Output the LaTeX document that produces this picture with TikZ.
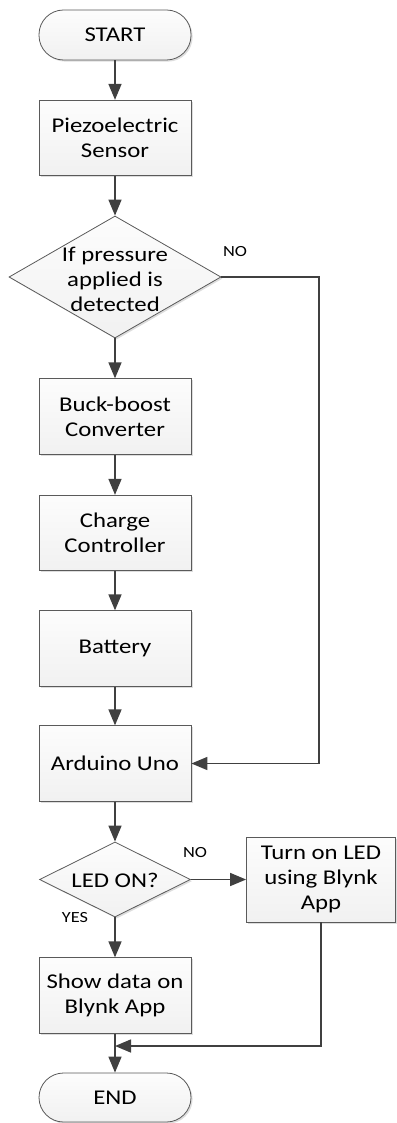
\documentclass[tikz,border=0pt]{standalone}
\usepackage{fontspec}
\setmainfont[FakeStretch=1.18]{Carlito}
\usetikzlibrary{shapes.geometric,arrows.meta,shadows}
\definecolor{lineC}{HTML}{404040}
\definecolor{borderC}{HTML}{5A5A5A}
\tikzset{
  boxbase/.style={draw=borderC, line width=0.8pt, top color=gray!2, bottom color=gray!11,
    drop shadow={shadow xshift=1.6pt, shadow yshift=-1.6pt, fill=gray!45, opacity=0.6},
    inner sep=0pt, align=center, font=\fontsize{21}{25}\selectfont},
  procbox/.style={boxbase, rectangle, minimum width=152pt, minimum height=75.5pt},
  termbox/.style={boxbase, rectangle, rounded corners=24.5pt, minimum width=152pt, minimum height=50pt},
  decbox/.style={boxbase, diamond},
  lbl/.style={font=\fontsize{15.5}{18}\selectfont, inner sep=0pt},
  txt/.style={align=center, font=\fontsize{21}{25}\selectfont, inner sep=0pt},
  arr/.style={draw=lineC, line width=1.6pt, -{Triangle[length=16pt,width=13pt]}},
  ln/.style={draw=lineC, line width=1.6pt}
}
\begin{document}
\begin{tikzpicture}[x=1pt,y=-1pt]
\useasboundingbox (0,0) rectangle (396,1123);
\node[termbox] (start) at (115,35) {START};
\node[procbox] (piezo) at (115,138) {Piezoelectric\\Sensor};
\node[decbox, minimum width=212pt, minimum height=122pt] (d1) at (115,277) {};
\node[txt] (d1t) at (115,279) {If pressure\\applied is\\detected};
\node[procbox] (buck) at (115,416.5) {Buck-boost\\Converter};
\node[procbox] (charge) at (115,533) {Charge\\Controller};
\node[procbox] (batt) at (115,648.5) {Battery};
\node[procbox] (ard) at (115,763.5) {Arduino Uno};
\node[decbox, minimum width=151pt, minimum height=75pt] (d2) at (115,879.5) {};
\node[txt] (d2t) at (115,880) {LED ON?};
\node[procbox, minimum width=149pt, minimum height=85pt] (turn) at (321,879.5) {Turn on LED\\using Blynk\\App};
\node[procbox] (show) at (115,995.5) {Show data on\\Blynk App};
\node[termbox, minimum height=49pt] (end) at (115,1097.5) {END};

\node[lbl] (no1) at (235,252) {NO};
\node[lbl] (no2) at (195,853) {NO};
\node[lbl] (yes) at (75,918) {YES};

\coordinate (c1) at (319,277);
\coordinate (m) at (115,1046);

\draw[arr] (start) -- (piezo);
\draw[arr] (piezo) -- (d1);
\draw[arr] (d1) -- (buck);
\draw[arr] (buck) -- (charge);
\draw[arr] (charge) -- (batt);
\draw[arr] (batt) -- (ard);
\draw[arr] (d1.east) -- (c1) |- (ard.east);
\draw[arr] (ard) -- (d2);
\draw[arr] (d2.east) -- (turn.west);
\draw[arr] (d2) -- (show);
\draw[arr] (show) -- (end);
\draw[arr] (turn.south) |- (m);
\end{tikzpicture}
\end{document}
